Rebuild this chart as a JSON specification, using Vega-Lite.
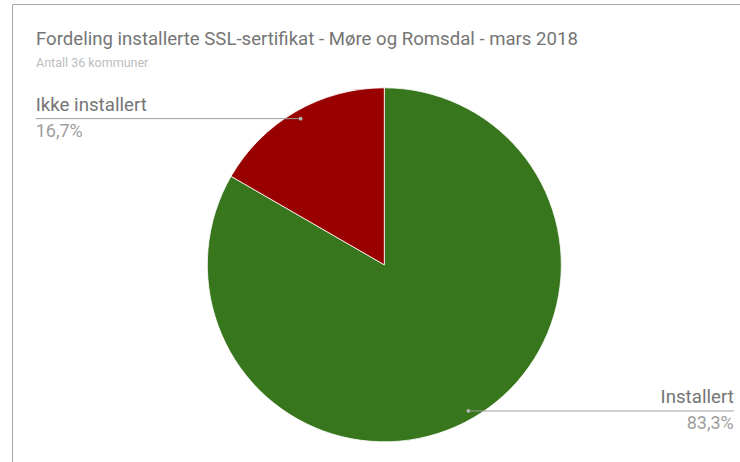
{
  "$schema": "https://vega.github.io/schema/vega-lite/v6.json",
  "width": 728,
  "height": 458,
  "autosize": {"type": "none"},
  "padding": {"left": 12, "top": 4, "right": 0, "bottom": 0},
  "background": "white",
  "config": {
    "view": {"stroke": "#a8a8a8", "strokeWidth": 1},
    "font": "Roboto"
  },
  "title": {
    "text": "Fordeling installerte SSL-sertifikat - Møre og Romsdal - mars 2018",
    "subtitle": "Antall 36 kommuner",
    "anchor": "start",
    "frame": "group",
    "orient": "top",
    "offset": -65,
    "dx": 24,
    "font": "Roboto",
    "fontSize": 18.6,
    "fontWeight": "normal",
    "color": "#757575",
    "subtitleFont": "Roboto",
    "subtitleFontSize": 12.5,
    "subtitleColor": "#bdbdbd",
    "subtitlePadding": 8
  },
  "datasets": {
    "slices": [
      {"status": "Installert", "antall": 30},
      {"status": "Ikke installert", "antall": 6}
    ],
    "etiketter": [
      {"status": "Ikke installert", "andel": "16,7%", "side": "venstre", "x_dot": -47.3, "x_out": -197, "y": 82.5},
      {"status": "Installert", "andel": "83,3%", "side": "høyre", "x_dot": 47.5, "x_out": 197.5, "y": -82.5}
    ]
  },
  "layer": [
    {
      "data": {"name": "slices"},
      "mark": {"type": "arc", "outerRadius": 177, "stroke": "#ffffff", "strokeWidth": 0.8},
      "encoding": {
        "theta": {"field": "antall", "type": "quantitative", "stack": true},
        "order": {"field": "antall", "sort": "descending"},
        "color": {
          "field": "status",
          "type": "nominal",
          "scale": {"domain": ["Installert", "Ikke installert"], "range": ["#38761d", "#990000"]},
          "legend": null
        },
        "x": {"datum": 0, "type": "quantitative", "scale": {"domain": [-210.4, 201], "nice": false, "zero": false}, "axis": null},
        "y": {"datum": 0, "type": "quantitative", "scale": {"domain": [-111.3, 147.2], "nice": false, "zero": false}, "axis": null}
      }
    },
    {
      "data": {"name": "etiketter"},
      "mark": {"type": "rule", "color": "#9e9e9e", "strokeWidth": 1},
      "encoding": {
        "x": {"field": "x_dot", "type": "quantitative"},
        "x2": {"field": "x_out"},
        "y": {"field": "y", "type": "quantitative"}
      }
    },
    {
      "data": {"name": "etiketter"},
      "mark": {"type": "point", "filled": true, "size": 14, "color": "#b5b5b5", "opacity": 1},
      "encoding": {
        "x": {"field": "x_dot", "type": "quantitative"},
        "y": {"field": "y", "type": "quantitative"}
      }
    },
    {
      "data": {"name": "etiketter"},
      "transform": [{"filter": "datum.side === 'venstre'"}],
      "mark": {"type": "text", "align": "left", "baseline": "bottom", "dy": -4, "fontSize": 18.7, "color": "#757575", "font": "Roboto"},
      "encoding": {
        "x": {"field": "x_out", "type": "quantitative"},
        "y": {"field": "y", "type": "quantitative"},
        "text": {"field": "status"}
      }
    },
    {
      "data": {"name": "etiketter"},
      "transform": [{"filter": "datum.side === 'venstre'"}],
      "mark": {"type": "text", "align": "left", "baseline": "top", "dy": 4, "fontSize": 18, "color": "#9e9e9e", "font": "Roboto"},
      "encoding": {
        "x": {"field": "x_out", "type": "quantitative"},
        "y": {"field": "y", "type": "quantitative"},
        "text": {"field": "andel"}
      }
    },
    {
      "data": {"name": "etiketter"},
      "transform": [{"filter": "datum.side === 'høyre'"}],
      "mark": {"type": "text", "align": "right", "baseline": "bottom", "dy": -4, "fontSize": 18.7, "color": "#757575", "font": "Roboto"},
      "encoding": {
        "x": {"field": "x_out", "type": "quantitative"},
        "y": {"field": "y", "type": "quantitative"},
        "text": {"field": "status"}
      }
    },
    {
      "data": {"name": "etiketter"},
      "transform": [{"filter": "datum.side === 'høyre'"}],
      "mark": {"type": "text", "align": "right", "baseline": "top", "dy": 4, "fontSize": 18, "color": "#9e9e9e", "font": "Roboto"},
      "encoding": {
        "x": {"field": "x_out", "type": "quantitative"},
        "y": {"field": "y", "type": "quantitative"},
        "text": {"field": "andel"}
      }
    }
  ]
}
